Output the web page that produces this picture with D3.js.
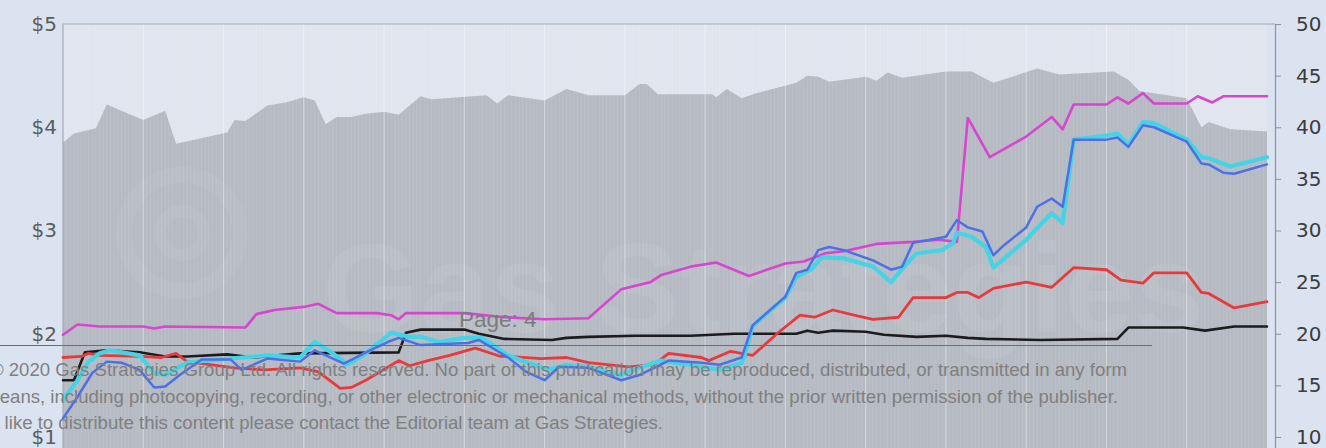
<!DOCTYPE html>
<html>
<head>
<meta charset="utf-8">
<script src="https://cdn.jsdelivr.net/npm/d3@7"></script>
<style>
  html, body { margin: 0; padding: 0; background: #dbe3f1; overflow: hidden; }
  svg { display: block; }
</style>
</head>
<body>
<svg id="chart" width="1326" height="448"></svg>
<script>
// ---- data (x = trading day index, 22 days per month, 15 months) ----
const leftTicks = [1, 2, 3, 4, 5];
const rightTicks = [10, 15, 20, 25, 30, 35, 40, 45, 50];

// shaded series, right axis
const areaDays   = [0, 3, 9, 12, 22, 28, 31, 45, 47, 50, 56, 61, 66, 69, 72, 75, 79, 83, 88, 92, 98, 101, 116, 119, 122, 132, 138, 144, 154, 158, 160, 163, 178, 179, 182, 186, 190, 201, 204, 207, 210, 216, 220, 223, 226, 230, 242, 249, 255, 262, 267, 273, 288, 292, 295, 308, 312, 314, 320, 330];
const areaValues = [38.5, 39.4, 39.9, 42.2, 40.7, 41.6, 38.4, 39.5, 40.7, 40.6, 42.1, 42.4, 42.9, 42.6, 40.3, 41.0, 41.0, 41.3, 41.5, 41.2, 43.0, 42.7, 43.1, 42.3, 43.1, 42.6, 43.7, 43.1, 43.1, 44.2, 44.2, 43.2, 43.2, 42.9, 43.7, 42.8, 43.3, 44.3, 45.0, 44.9, 44.4, 44.7, 44.9, 44.5, 45.3, 44.8, 45.4, 45.4, 44.3, 45.1, 45.7, 45.1, 45.4, 44.6, 43.5, 42.8, 40.0, 40.5, 39.8, 39.6];

// price series, left axis ($)
const magentaDays   = [0, 4, 10, 22, 25, 28, 50, 53, 58, 66, 70, 75, 86, 90, 92, 94, 110, 121, 132, 144, 153, 161, 164, 172, 179, 188, 198, 203, 209, 214, 223, 233, 240, 245, 248, 254, 264, 271, 274, 277, 286, 289, 292, 296, 299, 308, 311, 315, 318, 330];
const magentaValues = [1.99, 2.09, 2.07, 2.07, 2.05, 2.07, 2.06, 2.19, 2.23, 2.26, 2.29, 2.20, 2.20, 2.18, 2.14, 2.20, 2.20, 2.16, 2.14, 2.15, 2.43, 2.50, 2.57, 2.65, 2.69, 2.56, 2.68, 2.70, 2.78, 2.80, 2.87, 2.89, 2.91, 2.89, 4.09, 3.71, 3.91, 4.10, 3.98, 4.22, 4.22, 4.29, 4.23, 4.33, 4.23, 4.23, 4.30, 4.24, 4.30, 4.30];

const blackDays   = [0, 3, 6, 12, 21, 28, 34, 45, 52, 65, 92, 94, 98, 110, 114, 121, 134, 138, 144, 157, 172, 184, 201, 204, 207, 211, 220, 225, 234, 242, 248, 253, 268, 289, 292, 307, 313, 321, 330];
const blackValues = [1.55, 1.55, 1.82, 1.84, 1.82, 1.78, 1.78, 1.80, 1.77, 1.81, 1.82, 2.01, 2.04, 2.04, 2.00, 1.95, 1.94, 1.96, 1.97, 1.98, 1.98, 2.00, 2.00, 2.03, 2.01, 2.03, 2.02, 1.99, 1.97, 1.98, 1.96, 1.95, 1.94, 1.95, 2.06, 2.06, 2.03, 2.07, 2.07];

const redDays   = [0, 5, 7, 10, 21, 27, 31, 34, 47, 55, 65, 70, 76, 79, 83, 92, 95, 100, 106, 113, 120, 122, 131, 138, 144, 155, 162, 166, 175, 177, 183, 189, 196, 202, 206, 211, 218, 222, 229, 233, 242, 245, 248, 251, 255, 264, 271, 277, 286, 290, 296, 299, 308, 312, 314, 321, 330];
const redValues = [1.77, 1.78, 1.81, 1.79, 1.78, 1.77, 1.81, 1.73, 1.67, 1.65, 1.67, 1.63, 1.47, 1.48, 1.55, 1.74, 1.69, 1.74, 1.79, 1.86, 1.78, 1.78, 1.76, 1.77, 1.72, 1.68, 1.70, 1.81, 1.77, 1.74, 1.83, 1.79, 2.01, 2.18, 2.16, 2.23, 2.17, 2.14, 2.16, 2.35, 2.35, 2.40, 2.40, 2.35, 2.44, 2.50, 2.45, 2.64, 2.62, 2.52, 2.49, 2.59, 2.59, 2.40, 2.39, 2.25, 2.31];

const cyanDays   = [0, 4, 7, 10, 13, 21, 25, 28, 34, 42, 49, 56, 65, 69, 74, 78, 83, 90, 95, 98, 103, 110, 115, 122, 129, 133, 138, 144, 153, 156, 164, 175, 180, 186, 187, 189, 193, 198, 201, 205, 208, 214, 222, 227, 231, 234, 241, 244, 245, 249, 253, 255, 258, 264, 271, 274, 277, 286, 289, 292, 296, 299, 308, 312, 314, 320, 330];
const cyanValues = [1.36, 1.55, 1.73, 1.81, 1.84, 1.79, 1.62, 1.60, 1.72, 1.75, 1.77, 1.79, 1.77, 1.92, 1.81, 1.70, 1.81, 2.01, 1.97, 1.97, 1.92, 1.96, 1.96, 1.79, 1.70, 1.65, 1.70, 1.68, 1.60, 1.65, 1.74, 1.68, 1.65, 1.72, 1.81, 2.07, 2.20, 2.35, 2.55, 2.62, 2.74, 2.73, 2.65, 2.50, 2.67, 2.78, 2.81, 2.88, 2.98, 2.94, 2.84, 2.64, 2.73, 2.91, 3.17, 3.07, 3.88, 3.92, 3.94, 3.83, 4.05, 4.04, 3.88, 3.71, 3.70, 3.62, 3.71];

const blueDays   = [0, 4, 8, 12, 16, 21, 25, 28, 32, 38, 46, 49, 56, 65, 69, 77, 83, 89, 92, 98, 111, 114, 122, 127, 132, 136, 144, 153, 158, 166, 175, 180, 186, 189, 198, 201, 204, 207, 210, 214, 222, 227, 230, 233, 242, 245, 248, 252, 255, 258, 264, 267, 271, 274, 277, 286, 289, 292, 296, 299, 308, 312, 314, 318, 321, 330];
const blueValues = [1.18, 1.39, 1.62, 1.73, 1.72, 1.65, 1.48, 1.49, 1.60, 1.75, 1.75, 1.65, 1.76, 1.73, 1.84, 1.71, 1.82, 1.92, 1.96, 1.89, 1.91, 1.94, 1.77, 1.63, 1.55, 1.68, 1.67, 1.55, 1.60, 1.74, 1.72, 1.70, 1.77, 2.08, 2.36, 2.59, 2.62, 2.81, 2.84, 2.81, 2.71, 2.62, 2.65, 2.88, 2.94, 3.10, 3.03, 2.99, 2.76, 2.86, 3.03, 3.23, 3.31, 3.23, 3.88, 3.88, 3.90, 3.81, 4.02, 4.00, 3.86, 3.65, 3.64, 3.56, 3.55, 3.64];

const pageLabel = "Page: 4";
const noticeLines = [
  "© 2020 Gas Strategies Group Ltd. All rights reserved. No part of this publication may be reproduced, distributed, or transmitted in any form",
  "or by any means, including photocopying, recording, or other electronic or mechanical methods, without the prior written permission of the publisher.",
  "If you would like to distribute this content please contact the Editorial team at Gas Strategies."
];

// ---- layout ----
const svg = d3.select("#chart");
const plot = { left: 63, right: 1267, top: 24 };
const axisX = 1275;

const x = d3.scaleLinear().domain([0, 330]).range([plot.left, plot.right]);
const yL = d3.scaleLinear().domain([0, 5]).range([540.25, plot.top]);
const yR = d3.scaleLinear().domain([0, 50]).range([540.25, plot.top]);

// plot background
svg.append("rect")
  .attr("x", plot.left).attr("y", plot.top)
  .attr("width", plot.right - plot.left).attr("height", 448 - plot.top)
  .attr("fill", "#e0e5ef");

// shaded area
const areaPts = d3.zip(areaDays, areaValues);
svg.append("path")
  .datum(areaPts)
  .attr("fill", "#b5bac3")
  .attr("d", d3.area().x(d => x(d[0])).y0(yR(0)).y1(d => yR(d[1])));

// watermark
const wm = svg.append("g").attr("opacity", 0.06).attr("fill", "none").attr("stroke", "#ffffff");
wm.append("circle").attr("cx", 182).attr("cy", 233).attr("r", 58).attr("stroke-width", 16);
wm.append("circle").attr("cx", 182).attr("cy", 233).attr("r", 22).attr("stroke-width", 12);
svg.append("text")
  .attr("x", 322).attr("y", 332)
  .attr("font-family", "Liberation Sans, Arial, sans-serif")
  .attr("font-weight", "bold")
  .attr("font-size", 126)
  .attr("fill", "#ffffff").attr("opacity", 0.07)
  .text("Gas Strategies");

// vertical gridlines: daily (faint) and monthly
const grid = svg.append("g");
grid.selectAll("line.minor")
  .data(d3.range(1, 330))
  .join("line")
  .attr("class", "minor")
  .attr("x1", d => x(d)).attr("x2", d => x(d))
  .attr("y1", plot.top).attr("y2", 448)
  .attr("stroke", "#ffffff").attr("stroke-opacity", 0.1).attr("stroke-width", 1);
grid.selectAll("line.major")
  .data(d3.range(22, 330, 22))
  .join("line")
  .attr("class", "major")
  .attr("x1", d => x(d)).attr("x2", d => x(d))
  .attr("y1", plot.top).attr("y2", 448)
  .attr("stroke", "#ffffff").attr("stroke-opacity", 0.35).attr("stroke-width", 1.2);

// plot border (top and left)
svg.append("path")
  .attr("d", `M${plot.left},448V${plot.top}H${axisX}`)
  .attr("fill", "none").attr("stroke", "#a6abb5").attr("stroke-width", 1.2);

// lines
const line = d3.line().x(d => x(d[0])).y(d => yL(d[1]));
const series = [
  { days: blackDays,   values: blackValues,   color: "#1c1c1e", width: 2.6 },
  { days: redDays,     values: redValues,     color: "#e83a3c", width: 2.8 },
  { days: magentaDays, values: magentaValues, color: "#d845cf", width: 2.6 },
  { days: cyanDays,    values: cyanValues,    color: "#45d4e6", width: 4.2 },
  { days: blueDays,    values: blueValues,    color: "#4c70e6", width: 2.5 }
];
svg.append("g")
  .selectAll("path")
  .data(series)
  .join("path")
  .attr("fill", "none")
  .attr("stroke", d => d.color)
  .attr("stroke-width", d => d.width)
  .attr("stroke-linejoin", "round")
  .attr("stroke-linecap", "round")
  .attr("d", d => line(d3.zip(d.days, d.values)));

// left axis ($)
const left = svg.append("g")
  .attr("transform", `translate(57,0)`)
  .call(d3.axisLeft(yL).tickValues(leftTicks).tickFormat(d => "$" + d).tickSize(0).tickPadding(0));
left.select(".domain").remove();
left.selectAll("text")
  .attr("font-family", "DejaVu Sans, sans-serif")
  .attr("font-size", 20)
  .attr("fill", "#5c5c5c");

// right axis
const right = svg.append("g")
  .attr("transform", `translate(${axisX},0)`)
  .call(d3.axisRight(yR).tickValues(rightTicks).tickSize(6).tickSizeOuter(0).tickPadding(15));
right.select(".domain").attr("stroke", "#8e939b").attr("stroke-width", 1.2);
right.selectAll(".tick line").attr("stroke", "#8e939b");
right.selectAll("text")
  .attr("font-family", "DejaVu Sans, sans-serif")
  .attr("font-size", 20)
  .attr("fill", "#3c3c3c");

// page footer overlay
svg.append("text")
  .attr("x", 459).attr("y", 327)
  .attr("font-family", "Liberation Sans, Arial, sans-serif")
  .attr("font-size", 22.5)
  .attr("fill", "#7c7c7c")
  .text(pageLabel);
svg.append("line")
  .attr("x1", 0).attr("x2", 1152).attr("y1", 345.5).attr("y2", 345.5)
  .attr("stroke", "#6e6e6e").attr("stroke-width", 1);
const noticeEnds = [1127, 1118, 663];
svg.append("g")
  .selectAll("text")
  .data(noticeLines)
  .join("text")
  .attr("x", (d, i) => noticeEnds[i])
  .attr("y", (d, i) => 376 + i * 26.5)
  .attr("text-anchor", "end")
  .attr("font-family", "Liberation Sans, Arial, sans-serif")
  .attr("font-size", 18.6)
  .attr("fill", "#808080")
  .text(d => d);
</script>
</body>
</html>
